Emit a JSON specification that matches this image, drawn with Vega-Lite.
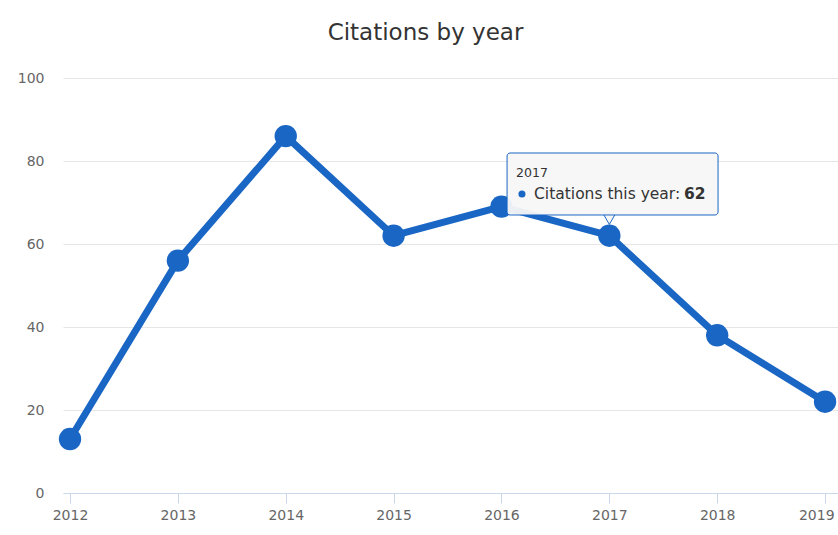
{
  "$schema": "https://vega.github.io/schema/vega-lite/v6.json",
  "autosize": "none",
  "width": 775,
  "height": 415,
  "padding": {"left": 63, "top": 78, "right": 0, "bottom": 42},
  "background": "white",
  "title": {
    "text": "Citations by year",
    "font": "DejaVu Sans",
    "fontSize": 23,
    "fontWeight": "normal",
    "color": "#333333",
    "anchor": "middle",
    "frame": "group",
    "dx": -25,
    "offset": 26
  },
  "config": {
    "view": {"stroke": null},
    "axis": {"labelFont": "DejaVu Sans", "labelColor": "#666666", "labelFontSize": 14}
  },
  "datasets": {
    "main": [
      {"year": 2012, "citations": 13},
      {"year": 2013, "citations": 56},
      {"year": 2014, "citations": 86},
      {"year": 2015, "citations": 62},
      {"year": 2016, "citations": 69},
      {"year": 2017, "citations": 62},
      {"year": 2018, "citations": 38},
      {"year": 2019, "citations": 22}
    ]
  },
  "layer": [
    {
      "data": {"name": "main"},
      "mark": {"type": "line", "strokeWidth": 7, "color": "#1a66c4", "clip": false},
      "encoding": {
        "x": {
          "field": "year", "type": "quantitative",
          "scale": {"domain": [2011.935, 2019.12], "nice": false, "zero": false},
          "axis": {
            "title": null, "values": [2012, 2013, 2014, 2015, 2016, 2017, 2018, 2019],
            "format": "d", "grid": false, "domainColor": "#ccd6eb", "tickColor": "#ccd6eb",
            "tickSize": 10, "labelPadding": 5, "labelFlush": false, "labelOverlap": false,
            "labelAlign": {"expr": "datum.value == 2019 ? 'right' : 'center'"},
            "labelOffset": {"expr": "datum.value == 2019 ? 9 : 0"}
          }
        },
        "y": {
          "field": "citations", "type": "quantitative",
          "scale": {"domain": [0, 100], "nice": false},
          "axis": {
            "title": null, "values": [0, 20, 40, 60, 80, 100], "domain": false, "ticks": false,
            "gridColor": "#e6e6e6", "labelPadding": 19
          }
        }
      }
    },
    {
      "data": {"name": "main"},
      "mark": {"type": "point", "filled": true, "size": 500, "opacity": 1, "color": "#1a66c4", "clip": false},
      "encoding": {
        "x": {"field": "year", "type": "quantitative"},
        "y": {"field": "citations", "type": "quantitative"}
      }
    },
    {
      "data": {"values": [{"x": 2017, "y": 66.0}]},
      "mark": {"type": "point", "shape": "triangle-down", "filled": true, "size": 150, "fill": "#f7f7f7", "stroke": "#1a66c4", "strokeWidth": 1, "opacity": 1},
      "encoding": {
        "x": {"field": "x", "type": "quantitative"},
        "y": {"field": "y", "type": "quantitative"}
      }
    },
    {
      "data": {"values": [{"x": 2016.052, "x2": 2018.008, "y": 81.93, "y2": 66.99}]},
      "mark": {"type": "rect", "fill": "#f7f7f7", "fillOpacity": 0.95, "stroke": "#1a66c4", "strokeWidth": 1, "cornerRadius": 3},
      "encoding": {
        "x": {"field": "x", "type": "quantitative"},
        "x2": {"field": "x2"},
        "y": {"field": "y", "type": "quantitative"},
        "y2": {"field": "y2"}
      }
    },
    {
      "data": {"values": [{"x": 2016.135, "y": 77.1, "label": "2017"}]},
      "mark": {"type": "text", "align": "left", "baseline": "middle", "font": "DejaVu Sans", "fontSize": 12.5, "color": "#333333"},
      "encoding": {
        "x": {"field": "x", "type": "quantitative"},
        "y": {"field": "y", "type": "quantitative"},
        "text": {"field": "label"}
      }
    },
    {
      "data": {"values": [{"x": 2016.19, "y": 72.05}]},
      "mark": {"type": "point", "filled": true, "size": 50, "opacity": 1, "color": "#1a66c4"},
      "encoding": {
        "x": {"field": "x", "type": "quantitative"},
        "y": {"field": "y", "type": "quantitative"}
      }
    },
    {
      "data": {"values": [{"x": 2016.302, "y": 72.05, "label": "Citations this year:"}]},
      "mark": {"type": "text", "align": "left", "baseline": "middle", "font": "DejaVu Sans", "fontSize": 15.5, "color": "#333333"},
      "encoding": {
        "x": {"field": "x", "type": "quantitative"},
        "y": {"field": "y", "type": "quantitative"},
        "text": {"field": "label"}
      }
    },
    {
      "data": {"values": [{"x": 2017.693, "y": 72.05, "label": "62"}]},
      "mark": {"type": "text", "align": "left", "baseline": "middle", "font": "DejaVu Sans", "fontSize": 15.5, "fontWeight": "bold", "color": "#333333"},
      "encoding": {
        "x": {"field": "x", "type": "quantitative"},
        "y": {"field": "y", "type": "quantitative"},
        "text": {"field": "label"}
      }
    }
  ]
}
